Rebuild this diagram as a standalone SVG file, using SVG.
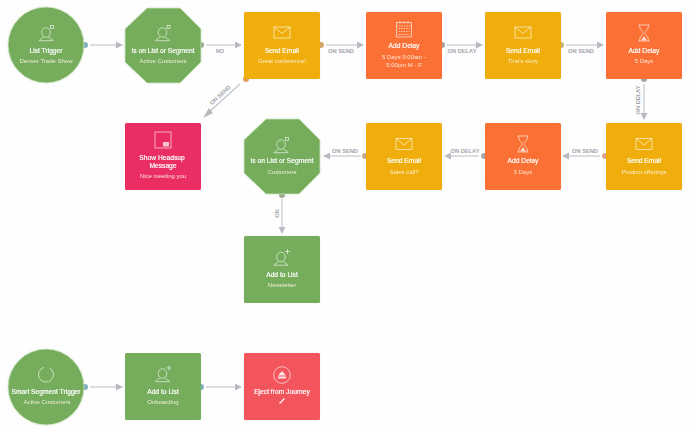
<svg xmlns="http://www.w3.org/2000/svg" width="690" height="429" viewBox="0 0 690 429">
<style>
text{font-family:"Liberation Sans",Arial,sans-serif;fill:#fff;text-anchor:middle}
.t{font-size:6.7px;fill:#fff;stroke:#fff;stroke-width:.18}
.s{font-size:6px;fill:#fdf3e4;opacity:.9}
.l{font-size:5.7px;font-weight:bold;fill:#a3a5ae}
.green{fill:#74ad5c}.yellow{fill:#f0ae0a}.orange{fill:#fb7034}.pink{fill:#ea2f64}.red{fill:#f2575c}
.ring{stroke:#cfe6c2;stroke-width:.8}
.i{fill:none;stroke:#fff;stroke-width:.8;opacity:.75}
.c{fill:none;stroke:#c0c1c7;stroke-width:1.1}
.a{fill:#b9bac1}
</style>
<defs>
<filter id="glow" x="-15%" y="-15%" width="130%" height="130%"><feDropShadow dx="0" dy="0" stdDeviation="1.2" flood-color="#000" flood-opacity=".06"/></filter>
<pattern id="dots" width="25" height="25" patternUnits="userSpaceOnUse"><circle cx="6" cy="6" r=".6" fill="#f3f3f3"/></pattern>
<g id="person" class="i"><ellipse cx="0" cy="-1.500" rx="4.300" ry="4.800"/><path d="M-2.500 2.800 C-3 4.500-6 4.500-7 6.700 H7 C6 4.500 3 4.500 2.500 2.800"/></g>
<g id="seg"><use href="#person"/><rect x="4.500" y="-8.500" width="3" height="3" class="i"/></g>
<g id="plus"><use href="#person"/><path d="M6.500-9.500v5M4-7h5" class="i"/></g>
<g id="mail" class="i"><rect x="-8" y="-5.500" width="16" height="11"/><path d="M-8-5.500 L0 1 L8-5.500"/></g>
<g id="glass" class="i"><path d="M-5.500-8H5.500M-5.500 8H5.500M-4.500-8C-4.500-3-1-2-1 0S-4.500 3-4.500 8M4.500-8C4.500-3 1-2 1 0S4.500 3 4.500 8"/><path d="M-3 7.500 L0 3 L3 7.500Z" fill="#fff" stroke="none"/></g>
<g id="cal" class="i"><rect x="-7.500" y="-7" width="15" height="14.500"/><path d="M-7.500-3.500H7.500M-4-8.500V-5.500M0-8.500V-5.500M4-8.500V-5.500M-5.500-1H5.500M-5.500 2H5.500M-5.500 5H5.500" stroke-dasharray="1.500 1"/></g>
</defs>
<rect width="690" height="429" fill="#fefefe"/>
<rect width="690" height="429" fill="url(#dots)"/>

<g id="connectors">
<path class="c" d="M90 45H116"/><path class="a" d="M116 41.500L123 45L116 48.500Z"/>
<path class="c" d="M206 45H235"/><path class="a" d="M235 41.500L242 45L235 48.500Z"/>
<path class="c" d="M326 45H357"/><path class="a" d="M357 41.500L364 45L357 48.500Z"/>
<path class="c" d="M447 45H476"/><path class="a" d="M476 41.500L483 45L476 48.500Z"/>
<path class="c" d="M566 45H597"/><path class="a" d="M597 41.500L604 45L597 48.500Z"/>
<path class="c" d="M644 84V113"/><path class="a" d="M640.500 113L644 120L647.500 113Z"/>
<path class="c" d="M600 156H569"/><path class="a" d="M569 152.500L562 156L569 159.500Z"/>
<path class="c" d="M479 156H451"/><path class="a" d="M451 152.500L444 156L451 159.500Z"/>
<path class="c" d="M361 156H330"/><path class="a" d="M330 152.500L323 156L330 159.500Z"/>
<path class="c" d="M282 199V227"/><path class="a" d="M278.500 227L282 234L285.500 227Z"/>
<path class="c" d="M240 84L208 113"/><path class="a" d="M209 108L203 118L213 113Z"/>
<path class="c" d="M90 387H116"/><path class="a" d="M116 383.500L123 387L116 390.500Z"/>
<path class="c" d="M206 387H235"/><path class="a" d="M235 383.500L242 387L235 390.500Z"/>
<circle cx="85" cy="45" r="3" fill="#7fb0bc"/><circle cx="201" cy="45" r="3" fill="#9aa88f"/>
<circle cx="321" cy="45" r="3" fill="#d6a86a"/><circle cx="442" cy="45" r="3" fill="#a8a49a"/>
<circle cx="561" cy="45" r="3" fill="#c9b37c"/><circle cx="644" cy="79" r="3" fill="#a7a5a3"/>
<circle cx="246" cy="79" r="3" fill="#e0a060"/><circle cx="605" cy="156" r="3" fill="#dba38e"/>
<circle cx="484" cy="156" r="3" fill="#a9a7ab"/><circle cx="365" cy="156" r="3" fill="#c9a68c"/>
<circle cx="282" cy="195" r="3" fill="#9aa88f"/><circle cx="85" cy="387" r="3" fill="#7fb0bc"/>
<circle cx="201" cy="387" r="3" fill="#7fb0bc"/>
<text class="l" x="220" y="53">NO</text>
<text class="l" x="341" y="53">ON SEND</text>
<text class="l" x="462" y="53">ON DELAY</text>
<text class="l" x="581" y="53">ON SEND</text>
<text class="l" transform="translate(640 100) rotate(-90)">ON DELAY</text>
<text class="l" x="585" y="153">ON SEND</text>
<text class="l" x="465" y="153">ON DELAY</text>
<text class="l" x="345" y="153">ON SEND</text>
<text class="l" transform="translate(275 213.500) rotate(90)">NO</text>
<text class="l" transform="translate(221.500 96.500) rotate(-43)">ON SEND</text>
</g>

<g id="node-list-trigger" filter="url(#glow)"><circle class="green ring" cx="46" cy="45" r="38"/><use href="#seg" x="46" y="34"/><text class="t" x="46" y="52.500">List Trigger</text><text class="s" x="46" y="62.500">Denver Trade Show</text></g>
<g id="node-segment-1" filter="url(#glow)"><path class="green ring" d="M147 8H180L201 29V62L180 83H147L125 62V29Z"/><use href="#seg" x="162.500" y="34"/><text class="t" x="163" y="52.500">Is on List or Segment</text><text class="s" x="163" y="62.500">Active Customers</text></g>
<g id="node-email-1" filter="url(#glow)"><rect class="yellow" x="244" y="12" width="76" height="67" rx="1.500"/><use href="#mail" x="282" y="32.500"/><text class="t" x="282" y="52.500">Send Email</text><text class="s" x="282" y="62.500">Great conference!</text></g>
<g id="node-delay-1" filter="url(#glow)"><rect class="orange" x="366" y="12" width="76" height="67" rx="1.500"/><use href="#cal" x="404" y="29.500"/><text class="t" x="404" y="48">Add Delay</text><text class="s" x="404" y="59">5 Days 9:00am -</text><text class="s" x="404" y="66.500">5:00pm M - F</text></g>
<g id="node-email-2" filter="url(#glow)"><rect class="yellow" x="485" y="12" width="76" height="67" rx="1.500"/><use href="#mail" x="523" y="32.500"/><text class="t" x="523" y="52.500">Send Email</text><text class="s" x="523" y="62.500">Tina's story</text></g>
<g id="node-delay-2" filter="url(#glow)"><rect class="orange" x="606" y="12" width="76" height="67" rx="1.500"/><use href="#glass" x="644" y="33"/><text class="t" x="644" y="52.500">Add Delay</text><text class="s" x="644" y="62.500">5 Days</text></g>
<g id="node-email-3" filter="url(#glow)"><rect class="yellow" x="606" y="123" width="76" height="67" rx="1.500"/><use href="#mail" x="644" y="144"/><text class="t" x="644" y="163">Send Email</text><text class="s" x="644" y="174">Product offerings</text></g>
<g id="node-delay-3" filter="url(#glow)"><rect class="orange" x="485" y="123" width="76" height="67" rx="1.500"/><use href="#glass" x="523" y="144"/><text class="t" x="523" y="163">Add Delay</text><text class="s" x="523" y="174">5 Days</text></g>
<g id="node-email-4" filter="url(#glow)"><rect class="yellow" x="366" y="123" width="76" height="67" rx="1.500"/><use href="#mail" x="404" y="144"/><text class="t" x="404" y="163">Send Email</text><text class="s" x="404" y="174">Sales call?</text></g>
<g id="node-segment-2" filter="url(#glow)"><path class="green ring" d="M266 119H299L320 140V173L299 194H266L244 173V140Z"/><use href="#seg" x="281" y="146"/><text class="t" x="282" y="163">Is on List or Segment</text><text class="s" x="282" y="174">Customers</text></g>
<g id="node-headsup" filter="url(#glow)"><rect class="pink" x="125" y="123" width="76" height="67" rx="1.500"/><rect class="i" x="155" y="132" width="16" height="16"/><rect x="163" y="142" width="6" height="4.500" fill="#fff" opacity=".7"/><text class="t" x="162" y="159.500">Show Headsup</text><text class="t" x="163" y="167.500">Message</text><text class="s" x="163" y="178">Nice meeting you</text></g>
<g id="node-add-newsletter" filter="url(#glow)"><rect class="green" x="244" y="236" width="76" height="67" rx="1.500"/><use href="#plus" x="281" y="258.500"/><text class="t" x="282" y="276.500">Add to List</text><text class="s" x="282" y="287">Newsletter</text></g>
<g id="node-smart-trigger" filter="url(#glow)"><circle class="green ring" cx="46" cy="387" r="38"/><path class="i" d="M49.500 367.900A7.500 7.500 0 1 1 44 367.300"/><text class="t" x="46" y="394">Smart Segment Trigger</text><text class="s" x="47" y="404">Active Customers</text></g>
<g id="node-add-onboarding" filter="url(#glow)"><rect class="green" x="125" y="353" width="76" height="67" rx="1.500"/><use href="#plus" x="162.500" y="375"/><text class="t" x="163" y="394">Add to List</text><text class="s" x="163" y="404">Onboarding</text></g>
<g id="node-eject" filter="url(#glow)"><rect class="red" x="244" y="353" width="76" height="67" rx="1.500"/><circle class="i" cx="282" cy="375" r="8.300"/><path d="M282 371L286 375.500H278Z M278 376.500H286V378.500H278Z" fill="#fff" opacity=".85"/><text class="t" x="282" y="394">Eject from Journey</text><path d="M279.500 403.500L284.500 398.500" stroke="#fff" stroke-width="1.100"/></g>
</svg>
